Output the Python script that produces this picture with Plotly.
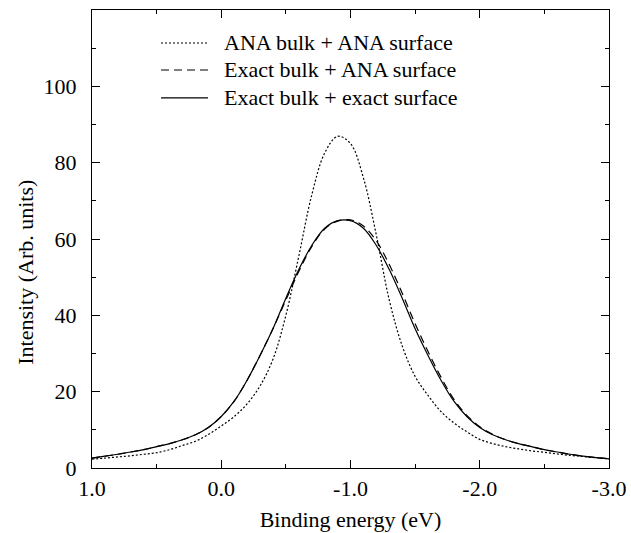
import plotly.graph_objects as go

# Binding energy grid (eV), plotted on a reversed axis
energy = [1.0, 0.9, 0.8, 0.7, 0.6, 0.5, 0.4, 0.3, 0.2, 0.1, 0.0,
          -0.1, -0.2, -0.3, -0.4, -0.5, -0.6, -0.7, -0.8, -0.9, -1.0,
          -1.1, -1.2, -1.3, -1.4, -1.5, -1.6, -1.7, -1.8, -1.9, -2.0,
          -2.1, -2.2, -2.3, -2.4, -2.5, -2.6, -2.7, -2.8, -2.9, -3.0]

# ANA bulk + ANA surface
ana_ana = [2.3, 2.6, 2.9, 3.2, 3.6, 4.0, 4.8, 5.9, 7.0, 8.8, 11.0,
           13.5, 16.8, 21.5, 28.5, 40.0, 55.5, 71.5, 82.5, 86.9, 85.0,
           76.0, 61.0, 44.0, 32.0, 24.0, 19.0, 14.8, 11.8, 9.5, 7.5,
           6.4, 5.6, 5.0, 4.5, 4.1, 3.7, 3.3, 3.0, 2.7, 2.4]

# Exact bulk + ANA surface
exact_ana = [2.6, 3.1, 3.6, 4.2, 4.8, 5.6, 6.4, 7.4, 8.7, 10.6, 13.5,
             17.5, 23.0, 29.5, 36.5, 44.0, 51.5, 58.0, 62.6, 64.7, 65.0,
             63.4, 59.5, 53.3, 45.8, 37.8, 30.5, 23.8, 18.0, 13.8, 10.8,
             8.8, 7.4, 6.4, 5.6, 4.8, 4.2, 3.6, 3.1, 2.7, 2.4]

# Exact bulk + exact surface
exact_exact = [2.6, 3.1, 3.6, 4.2, 4.8, 5.6, 6.4, 7.4, 8.7, 10.6, 13.5,
               17.5, 23.0, 29.5, 36.5, 44.5, 52.0, 58.3, 62.8, 64.8, 64.8,
               62.8, 58.3, 52.0, 44.5, 36.5, 29.5, 23.0, 17.5, 13.5, 10.6,
               8.7, 7.4, 6.4, 5.6, 4.8, 4.2, 3.6, 3.1, 2.7, 2.4]

series_names = ["ANA bulk + ANA surface",
                "Exact bulk + ANA surface",
                "Exact bulk + exact surface"]
series_values = [ana_ana, exact_ana, exact_exact]
series_dash = ["2px,2px", "8px,5px", "solid"]

x_tick_vals = [1.0, 0.0, -1.0, -2.0, -3.0]
x_tick_text = ["1.0", "0.0", "-1.0", "-2.0", "-3.0"]
y_tick_vals = [0, 20, 40, 60, 80, 100]
y_tick_text = ["0", "20", "40", "60", "80", "100"]

FONT = "Liberation Serif"

fig = go.Figure()
for name, vals, dash in zip(series_names, series_values, series_dash):
    fig.add_trace(go.Scatter(
        x=energy, y=vals, mode="lines", name=name, showlegend=False,
        line=dict(color="black", width=1.2, dash=dash,
                  shape="spline", smoothing=1.0),
    ))

# Hand-built key in the upper-left of the frame
key_x0, key_x1, key_text_x = 0.1335, 0.2244, 0.2515
key_rows = [0.928, 0.869, 0.808]
for name, dash, ky in zip(series_names, series_dash, key_rows):
    fig.add_shape(type="line", xref="paper", yref="paper",
                  x0=key_x0, x1=key_x1, y0=ky, y1=ky,
                  line=dict(color="black", width=1.2, dash=dash))
    fig.add_annotation(xref="paper", yref="paper", x=key_text_x, y=ky,
                       text=name, showarrow=False, xanchor="left",
                       yanchor="middle",
                       font=dict(family=FONT, size=22, color="black"))

# Vertical axis label, set a little below the frame's mid-height
fig.add_annotation(xref="paper", yref="paper", x=-0.128, y=0.428,
                   text="Intensity (Arb. units)", showarrow=False,
                   textangle=-90, xanchor="center", yanchor="middle",
                   font=dict(family=FONT, size=22, color="black"))

axis_common = dict(
    showline=True, linecolor="black", linewidth=1.2, mirror="allticks",
    ticks="inside", ticklen=8, tickwidth=1.2, tickcolor="black",
    showgrid=False, zeroline=False,
    tickfont=dict(family=FONT, size=22, color="black"),
)

fig.update_xaxes(
    range=[1.0, -3.0], tickmode="array", tickvals=x_tick_vals,
    ticktext=x_tick_text,
    minor=dict(dtick=0.5, tick0=0, ticks="inside", ticklen=4,
               tickwidth=1.2, tickcolor="black", showgrid=False),
    title=dict(text="Binding energy (eV)", standoff=12,
               font=dict(family=FONT, size=22, color="black")),
    **axis_common,
)
fig.update_yaxes(
    range=[0, 120], tickmode="array", tickvals=y_tick_vals,
    ticktext=y_tick_text,
    minor=dict(dtick=10, tick0=0, ticks="inside", ticklen=4,
               tickwidth=1.2, tickcolor="black", showgrid=False),
    ticklabelstandoff=10,
    **axis_common,
)

fig.update_layout(
    width=631, height=533,
    margin=dict(l=92, r=22, t=10, b=65, autoexpand=False),
    paper_bgcolor="white", plot_bgcolor="white",
    font=dict(family=FONT, size=22, color="black"),
)

fig.write_html("out.html")
